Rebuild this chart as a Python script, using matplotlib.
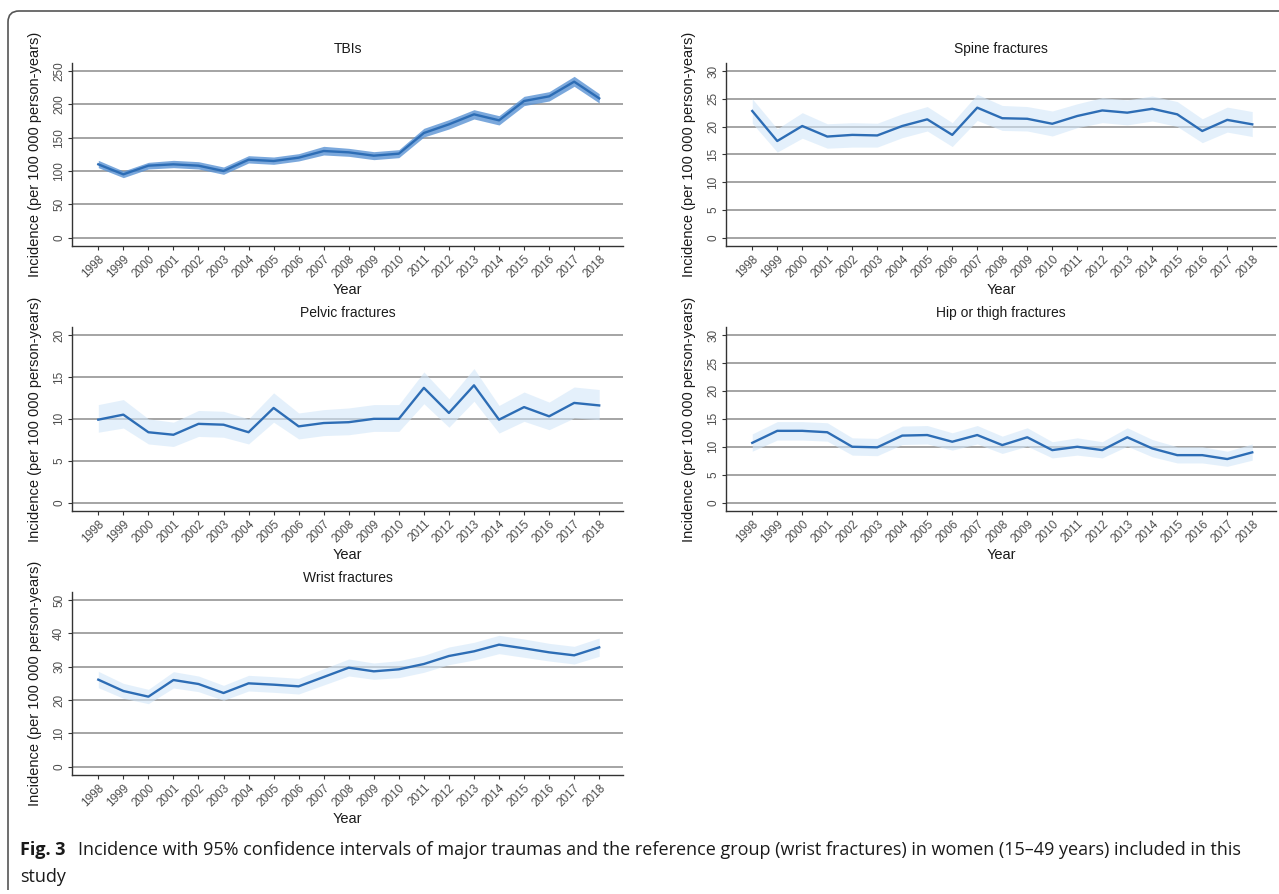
import matplotlib
matplotlib.use('Agg')
import matplotlib.pyplot as plt
from matplotlib.path import Path
from matplotlib.patches import PathPatch

# years on the x axis
years = [1998, 1999, 2000, 2001, 2002, 2003, 2004, 2005, 2006, 2007, 2008,
         2009, 2010, 2011, 2012, 2013, 2014, 2015, 2016, 2017, 2018]

# incidence per 100 000 person-years, with 95% CI
tbi = [110, 95, 108, 110, 108, 100, 117, 115, 120, 130, 128, 123, 126, 157, 170, 185, 176, 205, 212, 234, 209]
tbi_lo = [105, 90, 103, 105, 103, 95, 112, 110, 115, 124, 122, 117, 120, 151, 163, 178, 169, 198, 205, 227, 202]
tbi_hi = [116, 100, 113, 116, 114, 106, 123, 121, 126, 137, 134, 129, 132, 164, 177, 192, 183, 212, 219, 242, 216]

spine = [22.8, 17.4, 20.1, 18.2, 18.5, 18.4, 20.1, 21.3, 18.5, 23.4, 21.5, 21.4, 20.5, 21.9, 22.9, 22.5, 23.2, 22.2, 19.2, 21.2, 20.4]
spine_lo = [20.6, 15.4, 17.9, 16.1, 16.3, 16.3, 18.0, 19.2, 16.4, 21.1, 19.3, 19.2, 18.3, 19.8, 20.7, 20.3, 21.0, 20.0, 17.1, 19.0, 18.2]
spine_hi = [25.0, 19.6, 22.5, 20.5, 20.7, 20.6, 22.3, 23.6, 20.7, 25.8, 23.8, 23.6, 22.8, 24.1, 25.2, 24.8, 25.5, 24.5, 21.4, 23.5, 22.7]

pelvic = [9.9, 10.5, 8.4, 8.1, 9.4, 9.3, 8.4, 11.3, 9.1, 9.5, 9.6, 10.0, 10.0, 13.7, 10.7, 14.0, 9.9, 11.4, 10.3, 11.9, 11.6]
pelvic_lo = [8.4, 8.9, 7.0, 6.7, 7.9, 7.8, 7.0, 9.6, 7.6, 8.0, 8.1, 8.5, 8.5, 11.8, 9.0, 12.1, 8.3, 9.7, 8.7, 10.1, 9.9]
pelvic_hi = [11.7, 12.3, 10.0, 9.6, 11.0, 10.9, 10.0, 13.1, 10.7, 11.1, 11.3, 11.7, 11.7, 15.6, 12.4, 16.0, 11.6, 13.2, 12.0, 13.8, 13.5]

hip = [10.7, 12.85, 12.85, 12.6, 10.0, 9.9, 12.0, 12.1, 10.9, 12.1, 10.3, 11.7, 9.4, 10.0, 9.4, 11.7, 9.7, 8.5, 8.5, 7.8, 9.0]
hip_lo = [9.2, 11.2, 11.2, 11.0, 8.5, 8.4, 10.4, 10.5, 9.4, 10.5, 8.8, 10.1, 8.0, 8.5, 8.0, 10.1, 8.2, 7.1, 7.1, 6.5, 7.6]
hip_hi = [12.3, 14.5, 14.5, 14.3, 11.6, 11.5, 13.7, 13.8, 12.5, 13.8, 11.9, 13.4, 10.9, 11.6, 10.9, 13.4, 11.3, 10.0, 10.0, 9.2, 10.5]

wrist = [26.1, 22.7, 21.0, 26.0, 24.8, 22.1, 25.0, 24.6, 24.1, 26.9, 29.7, 28.6, 29.2, 30.8, 33.2, 34.6, 36.6, 35.5, 34.3, 33.4, 35.8]
wrist_lo = [23.7, 20.5, 18.9, 23.6, 22.5, 19.9, 22.7, 22.3, 21.8, 24.5, 27.2, 26.2, 26.7, 28.3, 30.6, 32.0, 33.9, 32.8, 31.7, 30.8, 33.1]
wrist_hi = [28.6, 25.0, 23.2, 28.5, 27.2, 24.4, 27.4, 27.0, 26.5, 29.4, 32.3, 31.1, 31.8, 33.4, 35.9, 37.3, 39.4, 38.3, 37.0, 36.1, 38.6]

W, H = 1279, 894
plt.rcParams['font.family'] = ['Liberation Sans', 'DejaVu Sans']
fig = plt.figure(figsize=(W / 100, H / 100), dpi=100)

LINE = '#2d6db5'
GRID = '#8c8c8c'


def add_axes_px(left, top, right, bottom):
    return fig.add_axes([left / W, 1 - bottom / H, (right - left) / W, (bottom - top) / H])


# title, values, lower, upper, y max, y step, box in pixels, band colour, band alpha
panels = [
    ("TBIs", tbi, tbi_lo, tbi_hi, 250, 50, (72, 63, 623, 246), '#5a93d4', 0.8),
    ("Spine fractures", spine, spine_lo, spine_hi, 30, 5, (726, 63, 1276, 246), '#d3e7f9', 0.6),
    ("Pelvic fractures", pelvic, pelvic_lo, pelvic_hi, 20, 5, (72, 327, 623, 511), '#d3e7f9', 0.6),
    ("Hip or thigh fractures", hip, hip_lo, hip_hi, 30, 5, (726, 327, 1276, 511), '#d3e7f9', 0.6),
    ("Wrist fractures", wrist, wrist_lo, wrist_hi, 50, 10, (72, 592, 623, 775), '#d3e7f9', 0.6),
]

for title, vals, lo, hi, ymax, step, box, band, alpha in panels:
    ax = add_axes_px(*box)
    width_px = box[2] - box[0]
    height_px = box[3] - box[1]
    ax.fill_between(years, lo, hi, color=band, alpha=alpha, lw=0, zorder=2)
    ax.plot(years, vals, color=LINE, lw=1.7, zorder=3)

    ax.set_xlim(1996.95, 2018.95)
    ax.set_ylim(-0.05 * ymax, 1.048 * ymax)
    ax.set_xticks(years)
    ax.set_xticklabels([str(y) for y in years], rotation=45, ha='right',
                       va='top', rotation_mode='anchor', fontsize=8.5, color='#4d4d4d')
    ax.set_yticks(list(range(0, ymax + 1, step)))
    ax.set_yticklabels([str(v) for v in range(0, ymax + 1, step)], rotation=90,
                       va='center', fontsize=8.5, color='#4d4d4d')
    ax.tick_params(axis='both', length=3, width=0.8, color='#333333', pad=2)

    ax.yaxis.grid(True, color=GRID, lw=1.1)
    ax.set_axisbelow(True)
    for s in ['top', 'right']:
        ax.spines[s].set_visible(False)
    for s in ['left', 'bottom']:
        ax.spines[s].set_color('#333333')
        ax.spines[s].set_linewidth(1.0)

    ax.set_title(title, fontsize=10, color='#1a1a1a', pad=7)
    ax.set_xlabel("Year", fontsize=10.5, color='#1a1a1a')
    ax.xaxis.set_label_coords(0.5, -37 / height_px)
    ax.set_ylabel("Incidence (per 100 000 person-years)", fontsize=10.5, color='#1a1a1a')
    ax.yaxis.set_label_coords(-30 / width_px, 0.5)

# frame round the figure, rounded top-left corner
verts = [(8 / W, 1 - 890 / H), (8 / W, 1 - 22 / H), (8 / W, 1 - 11 / H),
         (19 / W, 1 - 11 / H), (1 / 1, 1 - 11 / H)]
codes = [Path.MOVETO, Path.LINETO, Path.CURVE3, Path.CURVE3, Path.LINETO]
fig.patches.append(PathPatch(Path(verts, codes), transform=fig.transFigure,
                             fill=False, edgecolor='#555555', lw=1.2))

# caption
cap_font = ['Open Sans', 'DejaVu Sans']
renderer = fig.canvas.get_renderer()
t1 = fig.text(20 / W, 1 - 850 / H, "Fig. 3", family=cap_font, fontweight='bold',
              fontsize=13, va='center', color='#1a1a1a')
bb = t1.get_window_extent(renderer)
fig.text((bb.x1 + 12) / W, 1 - 850 / H,
         "Incidence with 95% confidence intervals of major traumas and the reference group "
         "(wrist fractures) in women (15\u201349 years) included in this",
         family=cap_font, fontsize=13, va='center', color='#1a1a1a')
fig.text(20 / W, 1 - 877 / H, "study", family=cap_font, fontsize=13, va='center',
         color='#1a1a1a')

fig.savefig('out.png', dpi=100)
